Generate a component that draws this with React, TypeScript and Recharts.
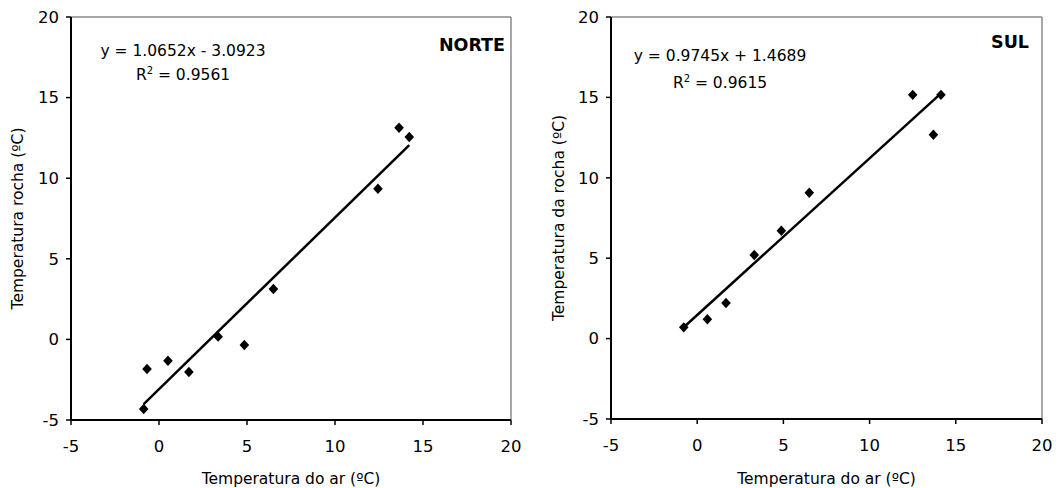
import { ScatterChart, Scatter, XAxis, YAxis, ReferenceLine, Customized } from "recharts";

// NORTE
const norteAr = [-0.87, -0.68, 0.51, 1.7, 3.36, 4.85, 6.5, 12.44, 13.64, 14.22];
const norteRocha = [-4.32, -1.84, -1.32, -2.02, 0.17, -0.35, 3.13, 9.35, 13.13, 12.56];
const norteSlope = 1.0652;
const norteIntercept = -3.0923;

// SUL
const sulAr = [-0.78, 0.59, 1.67, 3.31, 4.88, 6.5, 12.5, 13.7, 14.14];
const sulRocha = [0.7, 1.2, 2.21, 5.2, 6.71, 9.07, 15.16, 12.68, 15.16];
const sulSlope = 0.9745;
const sulIntercept = 1.4689;

const axisTicks = [-5, 0, 5, 10, 15, 20];
const FONT = "DejaVu Sans";

const toPoints = (xs: number[], ys: number[]) => xs.map((x, i) => ({ x, y: ys[i] }));
const trend = (xs: number[], a: number, b: number) => {
  const lo = Math.min(...xs);
  const hi = Math.max(...xs);
  return [{ x: lo, y: a * lo + b }, { x: hi, y: a * hi + b }];
};

const Diamond = (props: any) => {
  const { cx, cy } = props;
  if (cx == null || cy == null) return <g />;
  return <polygon points={`${cx},${cy - 5.2} ${cx + 4.8},${cy} ${cx},${cy + 5.2} ${cx - 4.8},${cy}`} fill="#000" />;
};

const NoDot = () => <g />;

interface PanelProps {
  xs: number[];
  ys: number[];
  slope: number;
  intercept: number;
  yLabel: string;
  title: string;
  width: number;
  margin: { top: number; right: number; left: number; bottom: number };
  xAxisHeight: number;
  yLabelOffset: number;
  eq: { x: number; y: number; r2y: number; r2: string; text: string };
  titlePos: { x: number; y: number };
}

const Panel = ({ xs, ys, slope, intercept, yLabel, title, width, margin, xAxisHeight, yLabelOffset, eq, titlePos }: PanelProps) => {
  const tickStyle = { fill: "#000", fontSize: 16.5, fontFamily: FONT };
  return (
    <ScatterChart width={width} height={488} margin={margin}>
      <XAxis
        type="number"
        dataKey="x"
        domain={[-5, 20]}
        ticks={axisTicks}
        tick={tickStyle}
        tickSize={5}
        tickMargin={15}
        height={xAxisHeight}
        axisLine={{ stroke: "#000", strokeWidth: 2 }}
        tickLine={{ stroke: "#000", strokeWidth: 1.5 }}
        label={{ value: "Temperatura do ar (ºC)", position: "insideBottom", offset: 4, fill: "#000", fontSize: 15.5, fontFamily: FONT }}
      />
      <YAxis
        type="number"
        dataKey="y"
        domain={[-5, 20]}
        ticks={axisTicks}
        tick={tickStyle}
        tickSize={5}
        tickMargin={7}
        width={50}
        axisLine={{ stroke: "#000", strokeWidth: 2 }}
        tickLine={{ stroke: "#000", strokeWidth: 1.5 }}
        label={{ value: yLabel, angle: -90, position: "insideLeft", offset: yLabelOffset, fill: "#000", fontSize: 15.5, fontFamily: FONT, style: { textAnchor: "middle" } }}
      />
      <ReferenceLine y={20} stroke="#8a8a8a" strokeWidth={1.5} />
      <ReferenceLine x={20} stroke="#8a8a8a" strokeWidth={1.5} />
      <Scatter data={trend(xs, slope, intercept)} line={{ stroke: "#000", strokeWidth: 2.5 }} shape={NoDot} isAnimationActive={false} />
      <Scatter data={toPoints(xs, ys)} shape={Diamond} isAnimationActive={false} />
      <Customized
        component={() => (
          <g fontFamily={FONT} fill="#000">
            <text x={eq.x} y={eq.y} textAnchor="middle" fontSize={15.5}>{eq.text}</text>
            <text x={eq.x} y={eq.r2y} textAnchor="middle" fontSize={15.5}>
              R<tspan dy={-6} fontSize={10}>2</tspan><tspan dy={6}>{` = ${eq.r2}`}</tspan>
            </text>
            <text x={titlePos.x} y={titlePos.y} textAnchor="end" fontSize={17.5} fontWeight="bold">{title}</text>
          </g>
        )}
      />
    </ScatterChart>
  );
};

export default function App() {
  return (
    <div style={{ position: "absolute", left: 0, top: 0, width: 1063, height: 488, background: "#fff", fontFamily: FONT }}>
      <div style={{ position: "absolute", left: 0, top: 0 }}>
        <Panel
          xs={norteAr}
          ys={norteRocha}
          slope={norteSlope}
          intercept={norteIntercept}
          yLabel="Temperatura rocha (ºC)"
          title="NORTE"
          width={530}
          margin={{ top: 17, right: 19, left: 21, bottom: 0 }}
          xAxisHeight={68}
          yLabelOffset={-4}
          eq={{ x: 183, y: 56, r2y: 80, r2: "0.9561", text: "y = 1.0652x - 3.0923" }}
          titlePos={{ x: 505, y: 51 }}
        />
      </div>
      <div style={{ position: "absolute", left: 530, top: 0 }}>
        <Panel
          xs={sulAr}
          ys={sulRocha}
          slope={sulSlope}
          intercept={sulIntercept}
          yLabel="Temperatura da rocha (ºC)"
          title="SUL"
          width={533}
          margin={{ top: 17, right: 21, left: 31, bottom: 0 }}
          xAxisHeight={69}
          yLabelOffset={-3}
          eq={{ x: 190, y: 61, r2y: 88, r2: "0.9615", text: "y = 0.9745x + 1.4689" }}
          titlePos={{ x: 499, y: 48 }}
        />
      </div>
    </div>
  );
}
